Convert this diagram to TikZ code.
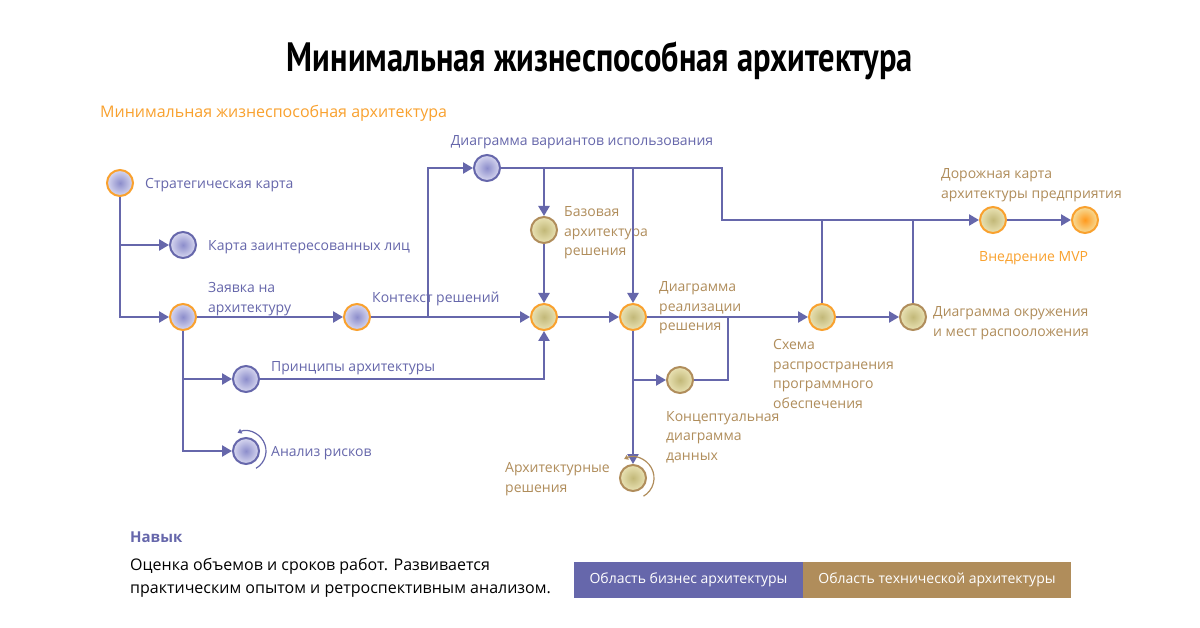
\documentclass[tikz,border=0pt]{standalone}
\usepackage{fontspec}
\usepackage{graphicx}
\setmainfont{Open Sans}
\newfontfamily\titlefont{PT Sans}
\usetikzlibrary{arrows.meta}

\definecolor{bizline}{HTML}{6667AB}
\definecolor{bizdeep}{HTML}{8C8DCB}
\definecolor{bizpale}{HTML}{D8D8F0}
\definecolor{techtan}{HTML}{B08D5B}
\definecolor{techdeep}{HTML}{C2B878}
\definecolor{techpale}{HTML}{E9E2B4}
\definecolor{mvporange}{HTML}{F9A12E}
\definecolor{mvpdeep}{HTML}{FF9A1E}
\definecolor{mvppale}{HTML}{F6DC98}

\tikzset{
  bizdot/.style={circle, inner sep=0pt, minimum size=26pt, line width=2pt,
    draw=bizline, inner color=bizdeep, outer color=bizpale},
  techdot/.style={circle, inner sep=0pt, minimum size=26pt, line width=2pt,
    draw=techtan, inner color=techdeep, outer color=techpale},
  keyring/.style={draw=mvporange},
  flow/.style={draw=bizline, line width=2.4pt, -{Triangle[length=10pt,width=11pt]}},
  link/.style={draw=bizline, line width=2.4pt},
  turn/.style={line width=1.2pt, -{Triangle[length=4pt,width=5pt]}},
  bizlbl/.style={anchor=west, inner sep=0pt, align=left, text=bizline,
    font=\fontsize{14}{19.6}\selectfont},
  techlbl/.style={anchor=west, inner sep=0pt, align=left, text=techtan,
    font=\fontsize{14}{19.6}\selectfont},
  areakey/.style={text=white, minimum height=36pt, inner sep=0pt,
    font=\fontsize{14}{16}\selectfont}
}

\begin{document}
\begin{tikzpicture}[x=1pt,y=-1pt]
  % POLOTNO
  \fill[white] (0,0) rectangle (1200,628);
  \useasboundingbox (0,0) rectangle (1200,628);

  % ZAGOLOVKI
  \node[anchor=base, inner sep=0pt] (title) at (600,72)
    {\resizebox{626pt}{\height}{\titlefont\bfseries\fontsize{41}{44}\selectfont Минимальная жизнеспособная архитектура}};
  \node[anchor=west, inner sep=0pt, text=mvporange, font=\fontsize{16}{20}\selectfont] (subtitle) at (100,113)
    {Минимальная жизнеспособная архитектура};

  % UZLY: biznes
  \node[bizdot, keyring] (strat) at (120,183) {};
  \node[bizdot] (stake) at (183,245) {};
  \node[bizdot, keyring] (req) at (183,317) {};
  \node[bizdot, keyring] (ctx) at (357,317) {};
  \node[bizdot] (usecase) at (487,168) {};
  \node[bizdot] (princ) at (246,379) {};
  \node[bizdot] (risk) at (246,451) {};

  % UZLY: tehnika
  \node[techdot] (base) at (544,230) {};
  \node[techdot, keyring] (sol) at (544,317) {};
  \node[techdot, keyring] (real) at (633,317) {};
  \node[techdot] (concept) at (680,380) {};
  \node[techdot] (archdec) at (633,478) {};
  \node[techdot, keyring] (deploy) at (822,317) {};
  \node[techdot] (env) at (913,317) {};
  \node[techdot, keyring] (roadmap) at (993,220) {};
  \node[circle, inner sep=0pt, minimum size=26pt, line width=2pt, draw=mvporange,
    inner color=mvpdeep, outer color=mvppale] (mvp) at (1085,220) {};

  % PODPISI
  \node[bizlbl] (stratlbl) at (145,185) {Стратегическая карта};
  \node[bizlbl] (stakelbl) at (208,247) {Карта заинтересованных лиц};
  \node[bizlbl] (reqlbl) at (208,299) {Заявка на\\архитектуру};
  \node[bizlbl] (ctxlbl) at (372,299) {Контекст решений};
  \node[bizlbl, anchor=center] (usecaselbl) at (582,142) {Диаграмма вариантов использования};
  \node[bizlbl] (princlbl) at (271,368) {Принципы архитектуры};
  \node[bizlbl] (risklbl) at (271,453) {Анализ рисков};
  \node[techlbl] (baselbl) at (564,233) {Базовая\\архитектура\\решения};
  \node[techlbl] (reallbl) at (659,308) {Диаграмма\\реализации\\решения};
  \node[techlbl] (conceptlbl) at (666,437) {Концептуальная\\диаграмма\\данных};
  \node[techlbl] (archdeclbl) at (505,479) {Архитектурные\\решения};
  \node[techlbl] (deploylbl) at (773,374) {Схема\\распространения\\программного\\обеспечения};
  \node[techlbl] (envlbl) at (933,323) {Диаграмма окружения\\и мест распооложения};
  \node[techlbl] (roadmaplbl) at (941,185) {Дорожная карта\\архитектуры предприятия};
  \node[techlbl, text=mvporange] (mvplbl) at (979,258) {Внедрение MVP};

  % SVYAZI
  \coordinate (jctx) at (428,317);
  \coordinate (jtop) at (722,168);
  \coordinate (jconc) at (728,317);
  \draw[flow] (strat) |- (req);
  \draw[flow] (strat |- stake) -- (stake);
  \draw[flow] (req) -- (ctx);
  \draw[flow] (req) |- (risk);
  \draw[flow] (req |- princ) -- (princ);
  \draw[flow] (ctx) -- (sol);
  \draw[flow] (jctx) |- (usecase);
  \draw[flow] (princ) -| (sol);
  \draw[flow] (usecase) -- (jtop) |- (roadmap);
  \draw[flow] (usecase -| base) -- (base);
  \draw[flow] (usecase -| real) -- (real);
  \draw[flow] (base) -- (sol);
  \draw[flow] (sol) -- (real);
  \draw[flow] (real) -- (archdec);
  \draw[flow] (real |- concept) -- (concept);
  \draw[flow] (real) -- (deploy);
  \draw[link] (concept) -| (jconc);
  \draw[flow] (deploy) -- (env);
  \draw[link] (deploy) -- (deploy |- roadmap);
  \draw[link] (env) -- (env |- roadmap);
  \draw[flow] (roadmap) -- (mvp);

  % POVTOR (krugovye strelki)
  \draw[turn, bizline] ([shift={(60:20)}]risk.center) arc[start angle=60, end angle=-115, radius=20];
  \draw[turn, techtan] ([shift={(60:21)}]archdec.center) arc[start angle=60, end angle=-115, radius=21];

  % NAVYK
  \node[anchor=west, inner sep=0pt, text=bizline, font=\fontsize{15}{18}\selectfont\bfseries] (skillhead) at (130,537) {Навык};
  \node[anchor=west, inner sep=0pt, align=left, font=\fontsize{16}{22.5}\selectfont] (skilltext) at (130,578)
    {Оценка объемов и сроков работ. Развивается\\практическим опытом и ретроспективным анализом.};

  % LEGENDA
  \node[areakey, fill=bizline, minimum width=229pt] (bizkey) at (688.5,580) {Область бизнес архитектуры};
  \node[areakey, fill=techtan, minimum width=268pt] (techkey) at (937,580) {Область технической архитектуры};
\end{tikzpicture}
\end{document}
